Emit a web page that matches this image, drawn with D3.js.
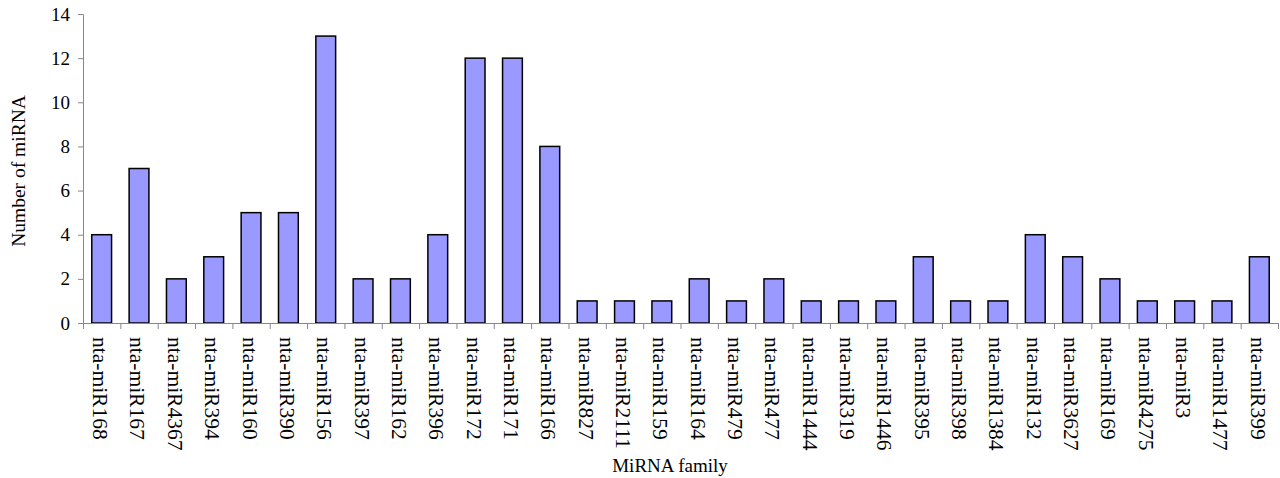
<!DOCTYPE html>
<html><head><meta charset="utf-8">
<script src="https://cdn.jsdelivr.net/npm/d3@7"></script>
<style>body{margin:0;background:#fff}svg{display:block}</style>
</head><body>
<svg id="c" width="1280" height="478"></svg>
<script>
const categories = ["nta-miR168","nta-miR167","nta-miR4367","nta-miR394","nta-miR160","nta-miR390","nta-miR156","nta-miR397","nta-miR162","nta-miR396","nta-miR172","nta-miR171","nta-miR166","nta-miR827","nta-miR2111","nta-miR159","nta-miR164","nta-miR479","nta-miR477","nta-miR1444","nta-miR319","nta-miR1446","nta-miR395","nta-miR398","nta-miR1384","nta-miR132","nta-miR3627","nta-miR169","nta-miR4275","nta-miR3","nta-miR1477","nta-miR399"];
const values = [4,7,2,3,5,5,13,2,2,4,12,12,8,1,1,1,2,1,2,1,1,1,3,1,1,4,3,2,1,1,1,3];
const yTicks = [0,2,4,6,8,10,12,14];
const xTitle = "MiRNA family";
const yTitle = "Number of miRNA";

(function(){
const svg = d3.select("#c");
const font = "'Liberation Serif','Times New Roman',serif";
const mL = 83, mR = 1278, mT = 14, mB = 323;
const x = d3.scaleBand().domain(categories).range([mL, mR]).paddingInner(0.47).paddingOuter(0.235);
const xb = d3.scaleLinear().domain([0, categories.length]).range([mL, mR]);
const y = d3.scaleLinear().domain([0, 14]).range([mB, mT]);

svg.append("g").selectAll("rect").data(values).join("rect")
  .attr("x", (d,i) => x(categories[i]))
  .attr("y", d => y(d))
  .attr("width", x.bandwidth())
  .attr("height", d => y(0) - y(d))
  .attr("fill", "#9999ff").attr("stroke", "#000").attr("stroke-width", 1.5);

const ya = svg.append("g").attr("transform", `translate(${mL},0)`)
  .call(d3.axisLeft(y).tickValues(yTicks).tickSize(5).tickPadding(8));
ya.select(".domain").attr("stroke", "#888");
ya.selectAll(".tick line").attr("stroke", "#888");
ya.selectAll("text").attr("font-family", font).attr("font-size", 19).attr("fill", "#000");

const xa = svg.append("g").attr("transform", `translate(0,${mB})`)
  .call(d3.axisBottom(xb).tickValues(d3.range(0, categories.length + 1)).tickSize(6).tickFormat(""));
xa.select(".domain").attr("stroke", "#888");
xa.selectAll(".tick line").attr("stroke", "#888");

svg.append("g").selectAll("text").data(categories).join("text")
  .attr("transform", d => `translate(${x(d) + x.bandwidth()/2 - 1},337) rotate(90)`)
  .attr("dy", "0.35em")
  .attr("font-family", font).attr("font-size", 21.5).attr("fill", "#000")
  .text(d => d);

svg.append("text").attr("x", 670).attr("y", 472).attr("text-anchor", "middle")
  .attr("font-family", font).attr("font-size", 19).text(xTitle);
svg.append("text").attr("transform", "translate(25,171) rotate(-90)").attr("text-anchor", "middle")
  .attr("font-family", font).attr("font-size", 19.5).text(yTitle);
})();
</script>
</body></html>
